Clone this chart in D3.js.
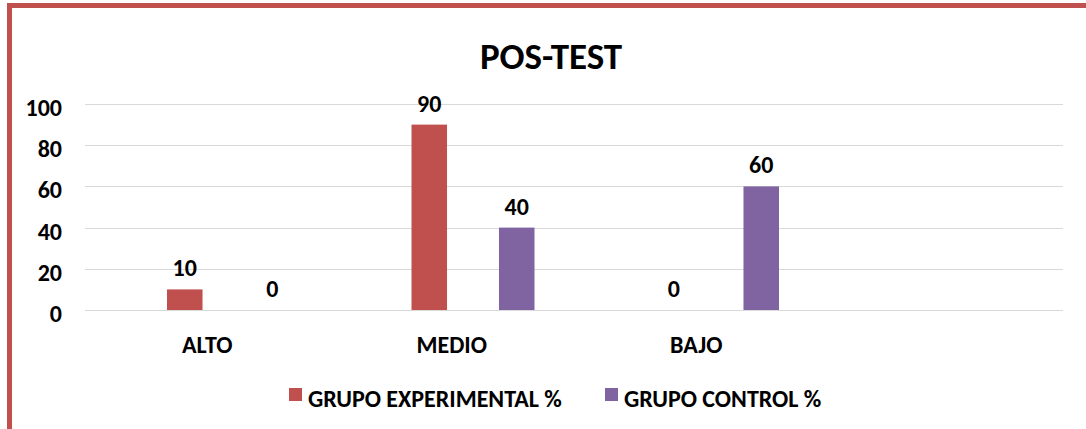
<!DOCTYPE html>
<html><head><meta charset="utf-8">
<script src="https://cdn.jsdelivr.net/npm/d3@7"></script>
<style>
html,body{margin:0;padding:0;background:#fff;}
svg{display:block;font-family:Carlito,Calibri,Lato,"Liberation Sans",sans-serif;font-weight:bold;}
</style></head>
<body>
<script>
const title = "POS-TEST";
const categories = ["ALTO", "MEDIO", "BAJO", ""];
const seriesNames = ["GRUPO EXPERIMENTAL %", "GRUPO CONTROL %"];
const experimental = [10, 90, 0, null];
const control = [0, 40, 60, null];
const yTicks = [0, 20, 40, 60, 80, 100];
const colors = ["#c0504d", "#8064a2"];

const W = 1086, H = 429;
const svg = d3.select("body").append("svg").attr("width", W).attr("height", H);

// border
svg.append("rect").attr("x", 9.5).attr("y", 5.5).attr("width", W + 20).attr("height", H + 20)
  .attr("fill", "none").attr("stroke", "#c0504d").attr("stroke-width", 5);

const plotL = 85, plotR = 1063, plotT = 104, plotB = 310;
const x = d3.scaleBand().domain(categories.map((c, i) => i)).range([plotL, plotR]);
const xs = d3.scaleBand().domain([0, 1]).range([82, 205]).paddingInner(0.594);
const y = d3.scaleLinear().domain([0, 100]).range([plotB, plotT]);

// gridlines
svg.append("g").selectAll("line").data(yTicks).join("line")
  .attr("x1", plotL).attr("x2", plotR)
  .attr("y1", d => Math.round(y(d)) + 0.5).attr("y2", d => Math.round(y(d)) + 0.5)
  .attr("stroke", "#d9d9d9").attr("stroke-width", 1);

// y tick labels
svg.append("g").selectAll("text").data(yTicks).join("text")
  .attr("x", 62).attr("y", d => y(d) + 12)
  .attr("text-anchor", "end").attr("font-size", 24).attr("fill", "#000")
  .text(d => d);

// title
svg.append("text").attr("x", 551).attr("y", 69).attr("text-anchor", "middle")
  .attr("font-size", 37).attr("fill", "#000").text(title);

// bars
const series = [experimental, control];
series.forEach((vals, s) => {
  const data = vals.map((v, i) => ({i, v})).filter(d => d.v !== null);
  const g = svg.append("g");
  g.selectAll("rect").data(data).join("rect")
    .attr("x", d => x(d.i) + xs(s))
    .attr("y", d => y(d.v))
    .attr("width", xs.bandwidth())
    .attr("height", d => y(0) - y(d.v))
    .attr("fill", colors[s]);
  g.selectAll("text").data(data).join("text")
    .attr("x", d => x(d.i) + xs(s) + xs.bandwidth() / 2)
    .attr("y", d => y(d.v) - 13)
    .attr("text-anchor", "middle").attr("font-size", 24).attr("fill", "#000")
    .text(d => d.v);
});

// category labels
svg.append("g").selectAll("text").data(categories).join("text")
  .attr("x", (d, i) => x(i) + x.bandwidth() / 2)
  .attr("y", 353).attr("text-anchor", "middle").attr("font-size", 24).attr("fill", "#000")
  .text(d => d);

// legend
const legX = [289, 605];
const leg = svg.append("g");
seriesNames.forEach((n, s) => {
  leg.append("rect").attr("x", legX[s]).attr("y", 388).attr("width", 13).attr("height", 13)
    .attr("fill", colors[s]);
  leg.append("text").attr("x", legX[s] + 19).attr("y", 407).attr("font-size", 24)
    .attr("fill", "#000").text(n);
});
</script>
</body></html>
